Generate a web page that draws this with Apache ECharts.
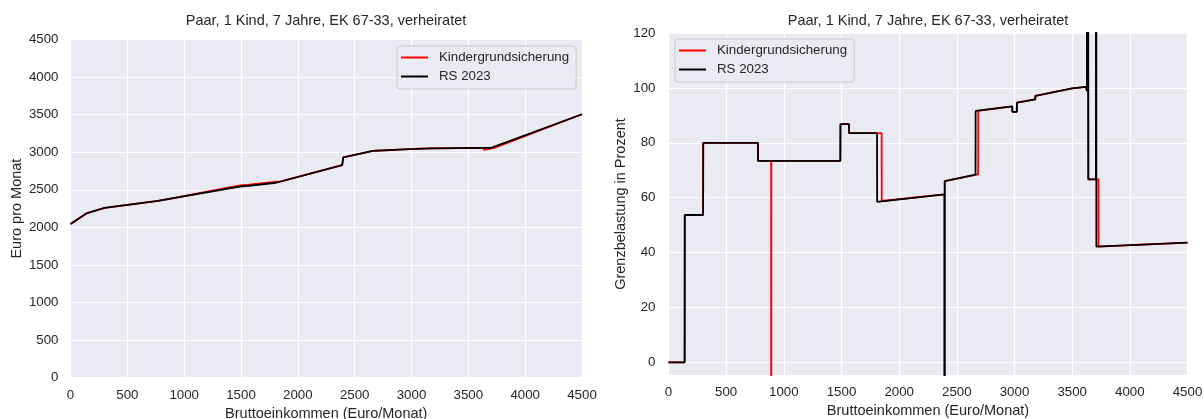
<!DOCTYPE html>
<html>
<head>
<meta charset="utf-8">
<script src="https://cdn.jsdelivr.net/npm/echarts@6/dist/echarts.min.js"></script>
<style>
html,body{margin:0;padding:0;background:#ffffff;}
#chart{width:1204px;height:419px;}
</style>
</head>
<body>
<div id="chart"></div>
<script>
// ---- data ----
const chartTitle = 'Paar, 1 Kind, 7 Jahre, EK 67-33, verheiratet';
const seriesNames = ['Kindergrundsicherung', 'RS 2023'];
const xTicks = [0, 500, 1000, 1500, 2000, 2500, 3000, 3500, 4000, 4500];
const yTicksLeft = [0, 500, 1000, 1500, 2000, 2500, 3000, 3500, 4000, 4500];
const yTicksRight = [0, 20, 40, 60, 80, 100, 120];

// Net income (Euro pro Monat) vs gross income
const nettoKGS = [
  [0, 2045], [140, 2185], [300, 2259], [770, 2353], [890, 2385], [891, 2401],
  [1490, 2560], [1570, 2570], [1810, 2610], [1850, 2612], [2390, 2827], [2400, 2930],
  [2660, 3018], [2685, 3020], [2980, 3042], [3030, 3044], [3180, 3051], [3630, 3058],
  [3640, 3030], [3728, 3057], [3730, 3057], [4500, 3505]
];
const nettoRS2023 = [
  [0, 2045], [140, 2185], [300, 2259], [770, 2353], [1490, 2544], [1570, 2554],
  [1810, 2594], [2390, 2827], [2400, 2930], [2660, 3018], [2980, 3042], [3030, 3044],
  [3180, 3051], [3630, 3058], [3640, 3038], [3700, 3057], [3710, 3055], [4500, 3505]
];

// Marginal burden (Grenzbelastung in Prozent) vs gross income
const grenzKGS = [
  [0, 0], [140, 0], [141, 53.7], [300, 53.7], [301, 80], [775, 80], [776, 73.4],
  [890, 73.4], [891, -500], [892, 73.4], [1490, 73.4], [1491, 86.8], [1565, 86.8],
  [1566, 83.5], [1848, 83.5], [1849, 58.8], [2393, 61.2], [2394, -500], [2395, 66],
  [2685, 68.5], [2686, 91.6], [2980, 93.3], [2981, 91.3], [3020, 91.3], [3021, 94.6],
  [3180, 95.8], [3181, 97.1], [3500, 99.8], [3620, 100.4], [3628, 98.8], [3630, 500],
  [3640, 66.7], [3728, 66.7], [3729, 42.2], [4500, 43.6]
];
const grenzRS2023 = [
  [0, 0], [140, 0], [141, 53.7], [300, 53.7], [301, 80], [775, 80], [776, 73.4],
  [1490, 73.4], [1491, 86.8], [1565, 86.8], [1566, 83.5], [1808, 83.5], [1809, 58.5],
  [2393, 61.2], [2394, -500], [2395, 66], [2662, 68.4], [2663, 91.6], [2980, 93.3],
  [2981, 91.3], [3020, 91.3], [3021, 94.6], [3180, 95.8], [3181, 97.1], [3500, 99.8],
  [3620, 100.4], [3628, 98.8], [3630, 500], [3640, 66.7], [3706, 66.7], [3707, 500],
  [3710, 42.2], [4500, 43.6]
];

// ---- styling ----
const FONT = 'Liberation Sans, Arial, sans-serif';
const TXT = '#262626';
const BG = '#EAEAF2';
const colors = ['#ff0000', '#000000'];
const plain = v => String(v);

const chart = echarts.init(document.getElementById('chart'), null, {renderer: 'canvas'});

function xAxisDef(gridIndex, nameGap) {
  return {
    gridIndex, type: 'value', min: xTicks[0], max: xTicks[xTicks.length - 1], interval: 500,
    name: 'Bruttoeinkommen (Euro/Monat)', nameLocation: 'middle', nameGap,
    nameTextStyle: {color: TXT, fontSize: 14.5, fontFamily: FONT},
    axisLine: {show: false}, axisTick: {show: false},
    axisLabel: {color: TXT, fontSize: 13.3, fontFamily: FONT, margin: 11, formatter: plain,
                showMinLabel: true, showMaxLabel: true, hideOverlap: false},
    splitLine: {show: true, lineStyle: {color: '#ffffff', width: 1.2}}
  };
}

function legendDef(left, top) {
  return {
    left, top, orient: 'vertical', icon: 'rect', itemWidth: 27, itemHeight: 2, itemGap: 4,
    padding: [4, 7, 5, 4],
    backgroundColor: 'rgba(234,234,242,0.8)', borderColor: '#cccccc', borderWidth: 1, borderRadius: 3,
    textStyle: {color: TXT, fontSize: 13.3, fontFamily: FONT, lineHeight: 15, padding: [0, 0, 0, 6]},
    data: seriesNames.map((n, i) => ({name: n, itemStyle: {color: colors[i]}})),
    selectedMode: false
  };
}

function lineSeries(name, data, xi, yi, color) {
  return {
    name, type: 'line', xAxisIndex: xi, yAxisIndex: yi, data,
    showSymbol: false, symbol: 'none', clip: true,
    lineStyle: {color, width: 1.8}, itemStyle: {color},
    emphasis: {disabled: true}, silent: true
  };
}

const option = {
  animation: false,
  backgroundColor: '#ffffff',
  title: [
    {text: chartTitle, left: 326, top: 13, textAlign: 'center', padding: 0,
     textStyle: {color: TXT, fontSize: 14.5, fontWeight: 'normal', fontFamily: FONT}},
    {text: chartTitle, left: 928, top: 13, textAlign: 'center', padding: 0,
     textStyle: {color: TXT, fontSize: 14.5, fontWeight: 'normal', fontFamily: FONT}}
  ],
  legend: [legendDef(397, 46), legendDef(675, 39)],
  grid: [
    {left: 70.5, right: 622, top: 39.5, bottom: 41.3, show: true, backgroundColor: BG, borderWidth: 0,
     containLabel: false, outerBoundsMode: 'none'},
    {left: 668.5, right: 16.5, top: 33, bottom: 44, show: true, backgroundColor: BG, borderWidth: 0,
     containLabel: false, outerBoundsMode: 'none'}
  ],
  xAxis: [xAxisDef(0, 25), xAxisDef(1, 28)],
  yAxis: [
    {gridIndex: 0, type: 'value', min: yTicksLeft[0], max: yTicksLeft[yTicksLeft.length - 1], interval: 500,
     name: 'Euro pro Monat', nameLocation: 'middle', nameGap: 46,
     nameTextStyle: {color: TXT, fontSize: 14.5, fontFamily: FONT},
     axisLine: {show: false}, axisTick: {show: false},
     axisLabel: {color: TXT, fontSize: 13.3, fontFamily: FONT, margin: 12, formatter: plain},
     splitLine: {show: true, lineStyle: {color: '#ffffff', width: 1.2}}},
    {gridIndex: 1, type: 'value', min: -4.6, max: 120,
     name: 'Grenzbelastung in Prozent', nameLocation: 'middle', nameGap: 40,
     nameTextStyle: {color: TXT, fontSize: 14.5, fontFamily: FONT},
     axisLine: {show: false},
     axisTick: {show: false, customValues: yTicksRight},
     axisLabel: {color: TXT, fontSize: 13.3, fontFamily: FONT, margin: 13, customValues: yTicksRight, formatter: plain},
     splitLine: {show: true, lineStyle: {color: '#ffffff', width: 1.2}}}
  ],
  series: [
    lineSeries(seriesNames[0], nettoKGS, 0, 0, colors[0]),
    lineSeries(seriesNames[1], nettoRS2023, 0, 0, colors[1]),
    lineSeries(seriesNames[0], grenzKGS, 1, 1, colors[0]),
    lineSeries(seriesNames[1], grenzRS2023, 1, 1, colors[1])
  ]
};
chart.setOption(option);
</script>
</body>
</html>
